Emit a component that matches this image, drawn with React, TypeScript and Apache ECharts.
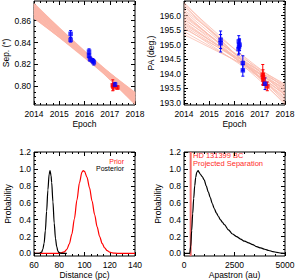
import React, { useEffect, useRef } from "react";
import * as echarts from "echarts";

const FONT = "'Liberation Sans', Arial, Helvetica, sans-serif";

// Tick labels
const epochTicks = [2014, 2015, 2016, 2017, 2018];
const sepTicks = [0.8, 0.82, 0.84, 0.86];
const paTicks = [193.0, 193.5, 194.0, 194.5, 195.0, 195.5, 196.0];
const distTicks = [60, 80, 100, 120, 140];
const apaTicks = [0, 2500, 5000];
const probTicks = [0, 0.2, 0.4, 0.6, 0.8, 1.0, 1.2];

// Astrometry: [epoch, value, error]
const sepBlue = [
  [2015.45, 0.848, 0.003],
  [2015.45, 0.8425, 0.002],
  [2016.18, 0.8318, 0.0025],
  [2016.18, 0.828, 0.002],
  [2016.22, 0.825, 0.002],
  [2016.32, 0.8234, 0.002],
  [2016.37, 0.822, 0.0025],
  [2017.21, 0.8016, 0.002],
];
const sepRed = [
  [2017.12, 0.801, 0.005],
  [2017.14, 0.7998, 0.003],
  [2017.3, 0.799, 0.0015],
];
const paBlue = [
  [2015.45, 195.17, 0.3],
  [2015.45, 195.05, 0.3],
  [2016.17, 195.11, 0.2],
  [2016.2, 195.0, 0.2],
  [2016.18, 194.94, 0.25],
  [2016.16, 194.85, 0.2],
  [2016.33, 194.37, 0.25],
  [2016.33, 194.12, 0.2],
  [2017.21, 193.66, 0.2],
];
const paRed = [
  [2017.12, 193.97, 0.35],
  [2017.13, 193.89, 0.25],
  [2017.14, 193.8, 0.2],
  [2017.3, 193.57, 0.15],
];

// Orbit fans: [value at 2014, value at 2018]
const fanEpochs = [2014, 2018];
const sepFan = [
  [0.8755, 0.784], [0.875, 0.787], [0.874, 0.79], [0.873, 0.785], [0.872, 0.789],
  [0.871, 0.792], [0.87, 0.786], [0.869, 0.79], [0.868, 0.793], [0.867, 0.788],
  [0.866, 0.791], [0.865, 0.794], [0.864, 0.789], [0.863, 0.792], [0.8625, 0.794],
  [0.87, 0.788], [0.874, 0.786], [0.866, 0.793],
];
const paFan = [
  [196.45, 192.95], [196.4, 193.3], [196.3, 193.1], [196.2, 193.5], [196.1, 193.0],
  [196.0, 193.35], [195.9, 193.2], [195.85, 193.6], [195.75, 193.4], [195.7, 193.55],
  [195.6, 193.3], [195.55, 193.65], [195.45, 193.5], [195.35, 193.6], [196.15, 193.25],
  [195.95, 193.45], [196.35, 193.05], [195.8, 193.3], [195.65, 193.45], [196.05, 193.15],
];

// Distance distributions
const postDist = [60, 64, 66, 67, 68, 69, 70, 71, 72, 72.7, 73.5, 74, 75, 76, 77, 78, 79, 80, 82, 86];
const postProb = [0, 0, 0.015, 0.05, 0.12, 0.27, 0.5, 0.75, 0.94, 0.98, 0.92, 0.84, 0.61, 0.36, 0.18, 0.08, 0.025, 0.007, 0, 0];
const priorDist = [60, 80, 84, 86, 88, 90, 92, 94, 96, 98, 99, 100, 102, 104, 106, 108, 110, 112, 114, 116, 118, 120, 122, 124, 128, 140];
const priorProb = [0, 0.002, 0.018, 0.049, 0.114, 0.23, 0.41, 0.63, 0.835, 0.963, 0.98, 0.97, 0.9, 0.775, 0.62, 0.46, 0.316, 0.2, 0.119, 0.065, 0.033, 0.016, 0.007, 0.003, 0.0005, 0];

// Apastron distribution
const apaAu = [0, 280, 330, 380, 430, 480, 530, 580, 630, 700, 750, 800, 900, 1000, 1100, 1200, 1300, 1400, 1500, 1600, 1700, 1800, 1900, 2000, 2200, 2400, 2600, 2800, 3000, 3200, 3400, 3600, 3800, 4000, 4200, 4400, 4600, 4800, 5000];
const apaProb = [0, 0, 0.08, 0.27, 0.47, 0.65, 0.8, 0.9, 0.96, 0.98, 0.96, 0.94, 0.91, 0.87, 0.8, 0.73, 0.66, 0.59, 0.53, 0.48, 0.44, 0.4, 0.37, 0.34, 0.28, 0.23, 0.2, 0.17, 0.145, 0.125, 0.105, 0.08, 0.065, 0.05, 0.035, 0.022, 0.012, 0.005, 0];
const projSep = 330;

function steps(a: number, b: number, s: number) {
  const out: number[] = [];
  for (let v = a; v <= b + 1e-9; v += s) out.push(+v.toFixed(6));
  return out;
}

function axes(dim: "x" | "y", gridIndex: number, min: number, max: number, major: number[], minor: number[], fmt: (v: number) => string, name: string, nameGap: number) {
  const isX = dim === "x";
  const pos = isX ? ["bottom", "top"] : ["left", "right"];
  const base: any = {
    type: "value", gridIndex, min, max,
    splitLine: { show: false },
    axisLine: { show: false, onZero: false },
  };
  const tick = (vals: number[], len: number) => ({ show: true, inside: true, length: len, customValues: vals, lineStyle: { color: "#000", width: 1 } });
  return [
    {
      ...base, position: pos[0], name, nameLocation: "middle", nameGap,
      nameTextStyle: { fontSize: 8.5, color: "#000", fontFamily: FONT },
      axisTick: tick(major, 4),
      axisLabel: { show: true, customValues: major, formatter: fmt, fontSize: 8.5, color: "#000", fontFamily: FONT, margin: isX ? 4 : 3 },
    },
    { ...base, position: pos[0], axisTick: tick(minor, 2), axisLabel: { show: false } },
    { ...base, position: pos[1], axisTick: tick(major, 4), axisLabel: { show: false } },
    { ...base, position: pos[1], axisTick: tick(minor, 2), axisLabel: { show: false } },
  ];
}

function errorSeries(data: number[][], color: string, gi: number): any {
  return {
    type: "custom", xAxisIndex: gi * 4, yAxisIndex: gi * 4, data, z: 3, silent: true,
    renderItem: (_p: any, api: any) => {
      const x = api.value(0), y = api.value(1), e = api.value(2);
      const a = api.coord([x, y + e]);
      const b = api.coord([x, y - e]);
      const w = 1.5;
      const st = { stroke: color, lineWidth: 1 };
      return {
        type: "group",
        children: [
          { type: "line", shape: { x1: a[0], y1: a[1], x2: b[0], y2: b[1] }, style: st },
          { type: "line", shape: { x1: a[0] - w, y1: a[1], x2: a[0] + w, y2: a[1] }, style: st },
          { type: "line", shape: { x1: b[0] - w, y1: b[1], x2: b[0] + w, y2: b[1] }, style: st },
        ],
      };
    },
  };
}

function pointSeries(data: number[][], color: string, gi: number): any {
  return {
    type: "scatter", xAxisIndex: gi * 4, yAxisIndex: gi * 4,
    data: data.map((d) => [d[0], d[1]]), symbol: "rect", symbolSize: 4.5,
    itemStyle: { color }, z: 4, silent: true,
  };
}

function fanSeries(fan: number[][], gi: number, color: string, width: number, opacity: number): any[] {
  return fan.map(([s, e]) => ({
    type: "line", xAxisIndex: gi * 4, yAxisIndex: gi * 4,
    data: [[fanEpochs[0], s], [fanEpochs[1], e]],
    symbol: "none", silent: true, z: 1,
    lineStyle: { color, width, opacity },
  }));
}

function curve(xs: number[], ys: number[], gi: number, color: string, width: number, z = 2): any {
  return {
    type: "line", xAxisIndex: gi * 4, yAxisIndex: gi * 4,
    data: xs.map((x, i) => [x, ys[i]]), symbol: "none", silent: true, z,
    smooth: 0.3, smoothMonotone: "x",
    lineStyle: { color, width },
  };
}

export default function App() {
  const ref = useRef<HTMLDivElement>(null);
  useEffect(() => {
    if (!ref.current) return;
    const chart = echarts.init(ref.current, null, { renderer: "svg" });
    const grids = [
      { left: 34, top: 1, width: 101, height: 104 },
      { left: 184, top: 1, width: 101, height: 104 },
      { left: 34, top: 152, width: 101, height: 105 },
      { left: 184, top: 152, width: 101, height: 105 },
    ].map((g) => ({ ...g, show: true, borderColor: "#000", borderWidth: 1, backgroundColor: "transparent", containLabel: false }));

    const fmtInt = (v: number) => String(Math.round(v));
    const fmt1 = (v: number) => v.toFixed(1);
    const fmt2 = (v: number) => v.toFixed(2);

    const xAxis = [
      ...axes("x", 0, 2014, 2018, epochTicks, steps(2014, 2018, 0.25), fmtInt, "Epoch", 14),
      ...axes("x", 1, 2014, 2018, epochTicks, steps(2014, 2018, 0.25), fmtInt, "Epoch", 14),
      ...axes("x", 2, 60, 140, distTicks, steps(60, 140, 5), fmtInt, "Distance (pc)", 14),
      ...axes("x", 3, 0, 5000, apaTicks, steps(0, 5000, 500), fmtInt, "Apastron (au)", 14),
    ];
    const yAxis = [
      ...axes("y", 0, 0.783, 0.878, sepTicks, steps(0.785, 0.875, 0.005), fmt2, "Sep. (\u2033)", 22),
      ...axes("y", 1, 192.93, 196.5, paTicks, steps(193.0, 196.5, 0.1), fmt1, "PA (deg.)", 26),
      ...axes("y", 2, -0.03, 1.2, probTicks, steps(0, 1.2, 0.05), fmt1, "Probability", 22),
      ...axes("y", 3, -0.03, 1.2, probTicks, steps(0, 1.2, 0.05), fmt1, "Probability", 22),
    ];

    const series: any[] = [
      ...fanSeries(sepFan, 0, "#fbb6a8", 1.5, 1),
      errorSeries(sepBlue, "#0000ff", 0),
      errorSeries(sepRed, "#ff0000", 0),
      pointSeries(sepRed, "#ff0000", 0),
      pointSeries(sepBlue, "#0000ff", 0),
      ...fanSeries(paFan, 1, "#fabcaf", 0.8, 1),
      errorSeries(paBlue, "#0000ff", 1),
      errorSeries(paRed, "#ff0000", 1),
      pointSeries(paRed, "#ff0000", 1),
      pointSeries(paBlue, "#0000ff", 1),
      curve(priorDist, priorProb, 2, "#ff0000", 1.2, 2),
      curve(postDist, postProb, 2, "#000000", 1.2, 3),
      {
        type: "line", xAxisIndex: 12, yAxisIndex: 12,
        data: [[projSep, -0.03], [projSep, 1.2]], symbol: "none", silent: true, z: 2,
        lineStyle: { color: "#f26868", width: 2 },
      },
      curve(apaAu, apaProb, 3, "#000000", 1.2, 3),
    ];

    chart.setOption({
      animation: false,
      textStyle: { fontFamily: FONT },
      grid: grids,
      xAxis,
      yAxis,
      series,
      graphic: [
        { type: "text", right: 299 - 124, top: 158, style: { text: "Prior", fill: "#ff2020", font: `7px ${FONT}`, align: "right" } },
        { type: "text", right: 299 - 124, top: 165, style: { text: "Posterior", fill: "#000", font: `7px ${FONT}`, align: "right" } },
        { type: "text", left: 193, top: 151.5, style: { text: "HD 131399 BC", fill: "#ff2a2a", font: `7.5px ${FONT}` } },
        { type: "text", left: 193, top: 159.5, style: { text: "Projected Separation", fill: "#ff2a2a", font: `7.5px ${FONT}` } },
      ],
    });
    return () => chart.dispose();
  }, []);
  return <div ref={ref} style={{ position: "fixed", left: 0, top: 0, width: 299, height: 280, background: "#fff" }} />;
}
